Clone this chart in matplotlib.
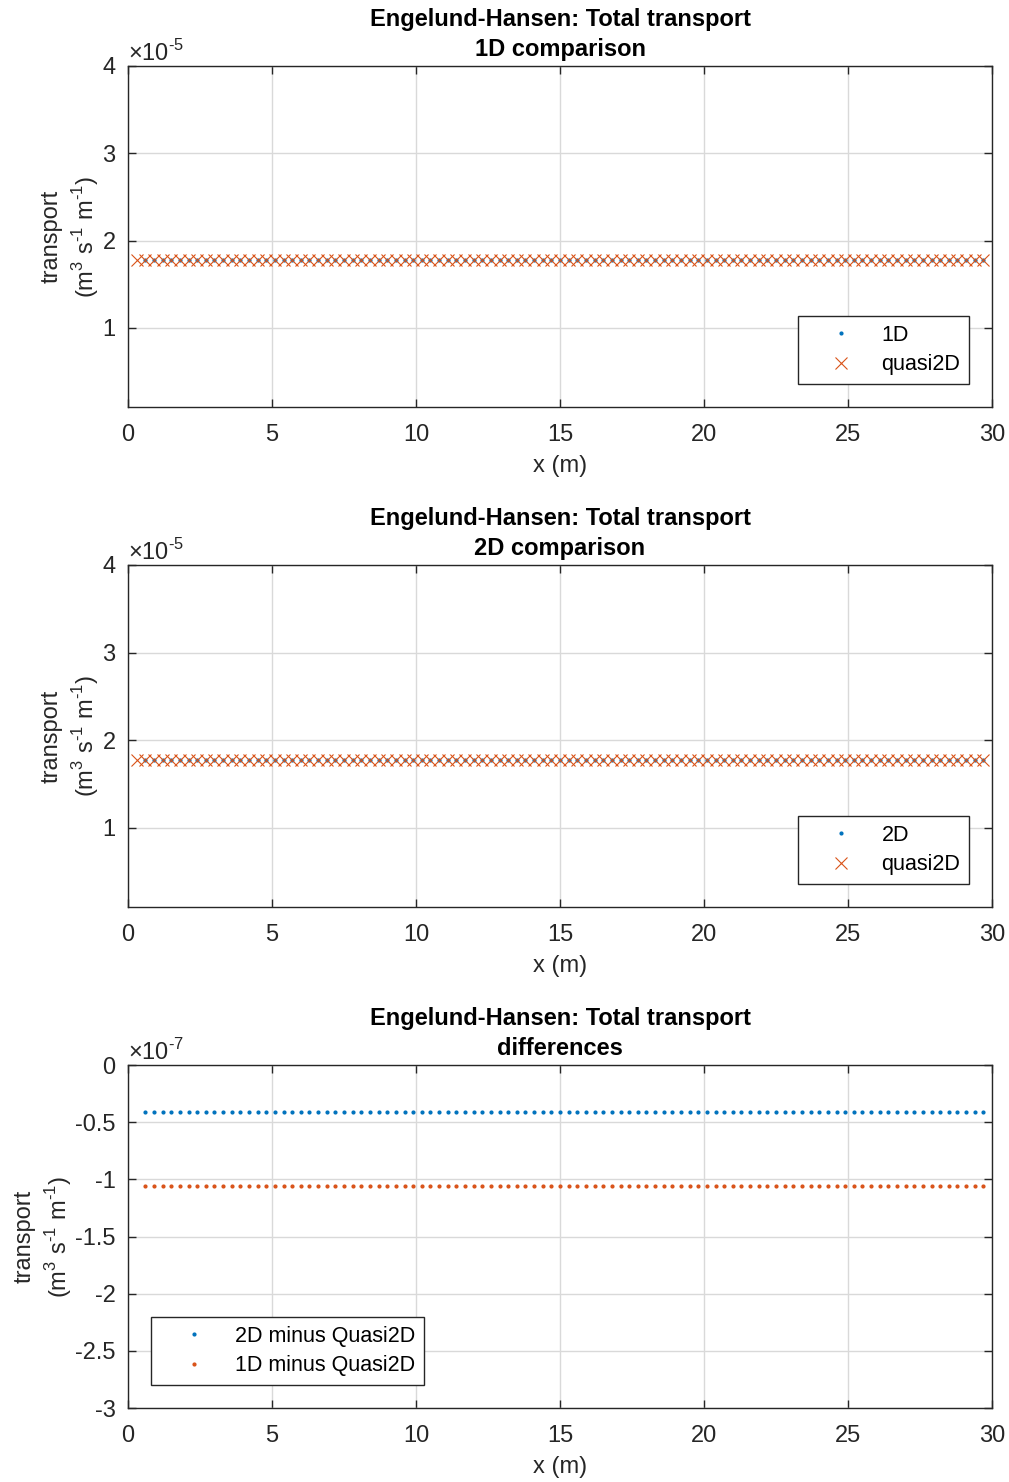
import matplotlib.pyplot as plt
from matplotlib.ticker import FuncFormatter

plt.rcParams['font.family'] = ['Liberation Sans', 'DejaVu Sans']
plt.rcParams['axes.unicode_minus'] = False
plt.rcParams['mathtext.fontset'] = 'custom'
plt.rcParams['mathtext.rm'] = 'Liberation Sans'

blauw = '#0072BD'
oranje = '#D95319'
fs = 17
fs_leg = 15.5

# posisjoner langs renna (m)
x_1d = [round(0.6 + 0.3 * i, 2) for i in range(98)]
x_q2d = [round(0.3 + 0.3 * i, 2) for i in range(99)]
x_2d = list(x_1d)
x_diff = list(x_1d)

# transport (m3 s-1 m-1), konstant langs renna
q_1d = [1.778e-5] * len(x_1d)
q_2d = [1.778e-5] * len(x_2d)
q_quasi2d = [1.778e-5] * len(x_q2d)
diff_2d = [-0.41e-7] * len(x_diff)
diff_1d = [-1.06e-7] * len(x_diff)

ylabel = 'transport\n(m$^\\mathregular{3}$ s$^\\mathregular{\u20101}$ m$^\\mathregular{\u20101}$)'
tittel = 'Engelund-Hansen: Total transport'


def stil(ax, skala, eksp):
    ax.set_xlim(0, 30)
    ax.set_xticks(range(0, 31, 5))
    ax.grid(True, color='#d9d9d9', linewidth=1)
    ax.set_axisbelow(True)
    ax.tick_params(direction='in', length=6, width=1, labelsize=fs,
                   top=True, right=True, colors='#262626', pad=9)
    ax.tick_params(axis='x', pad=12)
    for s in ax.spines.values():
        s.set_color('#262626')
        s.set_linewidth(1)
    ax.yaxis.set_major_formatter(FuncFormatter(lambda v, p: f'{v / skala:g}'))
    ax.text(0.0, 1.0, '$\\times$10$^\\mathregular{\u2010' + eksp + '}$', transform=ax.transAxes,
            fontsize=fs, color='#262626', va='bottom', ha='left')
    ax.set_xlabel('x (m)', fontsize=fs, color='#262626', labelpad=7)
    ax.set_ylabel(ylabel, fontsize=fs, color='#262626', labelpad=1, linespacing=1.3)


fig = plt.figure(figsize=(10.09, 14.82), dpi=100)
ax1 = fig.add_axes([0.1269, 0.7254, 0.8563, 0.2301])
ax2 = fig.add_axes([0.1269, 0.3880, 0.8563, 0.2308])
ax3 = fig.add_axes([0.1269, 0.0499, 0.8563, 0.2314])

ax1.plot(x_1d, q_1d, '.', color=blauw, markersize=4, label='1D')
ax1.plot(x_q2d, q_quasi2d, 'x', color=oranje, markersize=8, markeredgewidth=0.8, label='quasi2D')
ax1.set_ylim(0.094e-5, 4e-5)
ax1.set_yticks([1e-5, 2e-5, 3e-5, 4e-5])
stil(ax1, 1e-5, '5')
ax1.set_title(tittel + '\n1D comparison', fontsize=fs, fontweight='bold', pad=7, linespacing=1.4)

ax2.plot(x_2d, q_2d, '.', color=blauw, markersize=4, label='2D')
ax2.plot(x_q2d, q_quasi2d, 'x', color=oranje, markersize=8, markeredgewidth=0.8, label='quasi2D')
ax2.set_ylim(0.094e-5, 4e-5)
ax2.set_yticks([1e-5, 2e-5, 3e-5, 4e-5])
stil(ax2, 1e-5, '5')
ax2.set_title(tittel + '\n2D comparison', fontsize=fs, fontweight='bold', pad=7, linespacing=1.4)

ax3.plot(x_diff, diff_2d, '.', color=blauw, markersize=4, label='2D minus Quasi2D')
ax3.plot(x_diff, diff_1d, '.', color=oranje, markersize=4, label='1D minus Quasi2D')
ax3.set_ylim(-3e-7, 0)
ax3.set_yticks([-3e-7, -2.5e-7, -2e-7, -1.5e-7, -1e-7, -0.5e-7, 0])
stil(ax3, 1e-7, '7')
ax3.set_title(tittel + '\ndifferences', fontsize=fs, fontweight='bold', pad=7, linespacing=1.4)

for ax, loc in [(ax1, 'lower right'), (ax2, 'lower right'), (ax3, 'lower left')]:
    leg = ax.legend(loc=loc, fontsize=fs_leg, fancybox=False, framealpha=1,
                    edgecolor='#262626', borderaxespad=1.07, handletextpad=0.3,
                    handlelength=3.2, borderpad=0.4, labelspacing=0.4)
    leg.get_frame().set_linewidth(1)

fig.savefig('out.png', dpi=100)
